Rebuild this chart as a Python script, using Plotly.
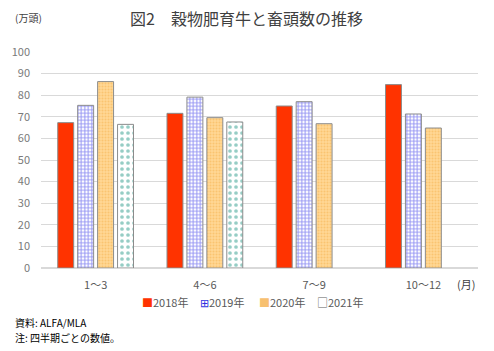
import plotly.graph_objects as go

categories = ["1～3", "4～6", "7～9", "10～12"]
y2018 = [67.3, 71.6, 75.0, 84.9]
y2019 = [75.3, 79.1, 77.0, 71.3]
y2020 = [86.3, 69.6, 66.8, 64.8]
y2021 = [66.5, 67.6, None, None]
series_names = ["2018年", "2019年", "2020年", "2021年"]

FONT = "Noto Sans CJK JP, Noto Sans, sans-serif"

fig = go.Figure()
line = dict(color="#8c8c8c", width=1)
fig.add_trace(go.Bar(x=categories, y=y2018, name=series_names[0],
                     marker=dict(color="#FF3300", line=line)))
fig.add_trace(go.Bar(x=categories, y=y2019, name=series_names[1],
                     marker=dict(color="#FFFFFF", line=line,
                                 pattern=dict(shape="+", fgcolor="#2828E6", bgcolor="#FFFFFF",
                                              size=3.5, solidity=0.5, fillmode="overlay"))))
fig.add_trace(go.Bar(x=categories, y=y2020, name=series_names[2],
                     marker=dict(color="#FFD08A", line=line,
                                 pattern=dict(shape=".", fgcolor="#F5B04A", bgcolor="#FFD896",
                                              size=3, solidity=0.4, fillmode="overlay"))))
fig.add_trace(go.Bar(x=categories, y=y2021, name=series_names[3],
                     marker=dict(color="#FFFFFF", line=line,
                                 pattern=dict(shape=".", fgcolor="#2E9C8C", bgcolor="#FFFFFF",
                                              size=6, solidity=0.3, fillmode="overlay"))))

pl, pr, pt, pb = 38, 494 - 16, 52, 351 - 83


def px(x, y):
    return (x - pl) / (pr - pl), (pb - y) / (pb - pt)


anns = []


def add_text(text, x, y, size, color, xanchor="center"):
    ax, ay = px(x, y)
    anns.append(dict(text=text, x=ax, y=ay, xref="paper", yref="paper", xanchor=xanchor,
                     yanchor="middle", showarrow=False, font=dict(size=size, color=color)))


add_text("図2　穀物肥育牛と畜頭数の推移", 245, 18, 16, "#404040")
add_text("(万頭)", 10, 18, 10, "#404040", "left")
add_text("(月)", 466, 284, 11, "#404040")
add_text("資料: ALFA/MLA", 10, 322, 10, "#000000", "left")
add_text("注: 四半期ごとの数値。", 10, 337, 10, "#000000", "left")

legend_syms = [("■", "#FF3300"), ("⊞", "#3030E0"), ("■", "#F7C070"), ("□", "#606060")]
legend_x = [138, 196, 255, 314]
for (sym, col), name, lx in zip(legend_syms, series_names, legend_x):
    add_text(f"<span style='color:{col}'>{sym}</span>{name}", lx, 302, 11, "#595959", "left")

fig.update_layout(
    width=494, height=351,
    margin=dict(l=pl, r=494 - pr, t=pt, b=351 - pb),
    paper_bgcolor="white", plot_bgcolor="white",
    font=dict(family=FONT, size=11, color="#595959"),
    barmode="group", bargap=0.27, bargroupgap=0.2,
    showlegend=False,
    xaxis=dict(showgrid=False, showline=False, ticks="", ticklabelstandoff=9,
               tickfont=dict(size=11, color="#595959")),
    yaxis=dict(range=[0, 100], dtick=10, showgrid=True, gridcolor="#D9D9D9", gridwidth=1,
               zeroline=True, zerolinecolor="#D9D9D9", ticks="", ticklabelstandoff=10,
               tickfont=dict(size=11, color="#7a7a7a")),
    annotations=anns,
)

fig.write_html("out.html")
